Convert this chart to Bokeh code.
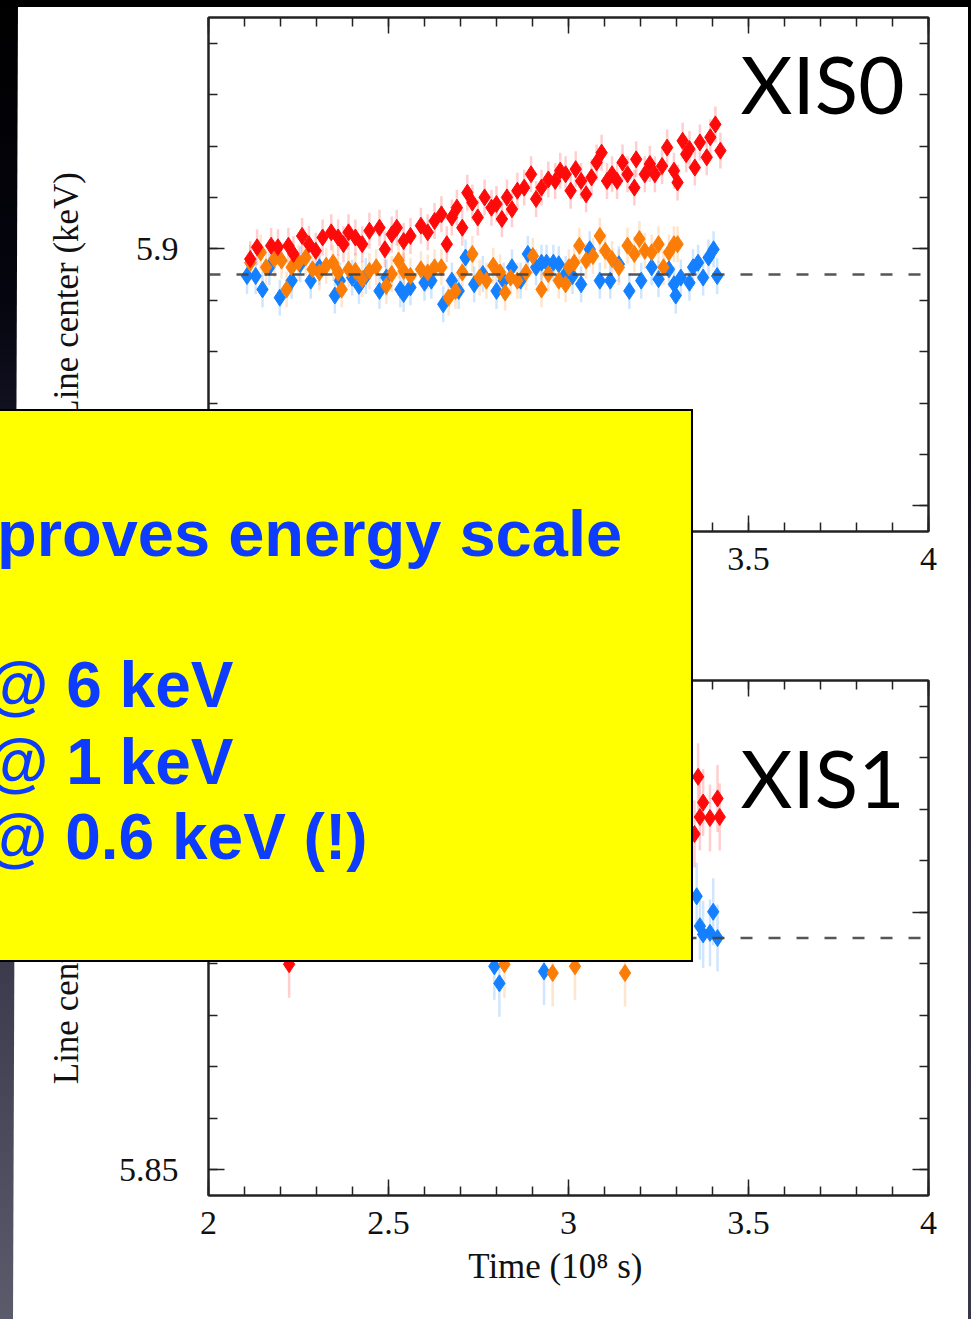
import numpy as np
from bokeh.plotting import figure
from bokeh.models import (Label, Span, LinearAxis, SingleIntervalTicker, Div,
                          CustomJSTickFormatter, ColumnDataSource, Range1d)
from bokeh.layouts import column
from bokeh.embed import file_html
from bokeh.resources import INLINE

# ---------------- data (time in 1e8 s, line centre in keV) ----------------
xis0_red_time = [2.116, 2.135, 2.174, 2.193, 2.222, 2.236, 2.260, 2.279, 2.298, 2.317,
                 2.341, 2.360, 2.375, 2.389, 2.408, 2.427, 2.447, 2.475, 2.490, 2.509,
                 2.523, 2.542, 2.561, 2.590, 2.609, 2.628, 2.647, 2.662, 2.676, 2.690,
                 2.705, 2.719, 2.733, 2.748, 2.767, 2.786, 2.800, 2.815, 2.829, 2.843,
                 2.858, 2.877, 2.896, 2.910, 2.925, 2.944, 2.963, 2.977, 2.992, 3.006,
                 3.020, 3.035, 3.049, 3.064, 3.078, 3.092, 3.107, 3.121, 3.135, 3.150,
                 3.164, 3.183, 3.188, 3.212, 3.226, 3.240, 3.260, 3.274, 3.293, 3.303,
                 3.317, 3.327, 3.336, 3.351, 3.365, 3.384, 3.394, 3.408, 3.422]
xis0_red_center = [5.8980, 5.9003, 5.9006, 5.9003, 5.9006, 5.8990, 5.9025, 5.9009, 5.8996, 5.9022,
                   5.9032, 5.9022, 5.9009, 5.9032, 5.9022, 5.9009, 5.9035, 5.9041, 5.8999, 5.9028,
                   5.9041, 5.9015, 5.9025, 5.9045, 5.9032, 5.9054, 5.9067, 5.9009, 5.9061, 5.9080,
                   5.9041, 5.9109, 5.9090, 5.9061, 5.9100, 5.9080, 5.9087, 5.9058, 5.9100, 5.9077,
                   5.9113, 5.9119, 5.9145, 5.9097, 5.9119, 5.9135, 5.9132, 5.9152, 5.9145, 5.9113,
                   5.9155, 5.9132, 5.9106, 5.9139, 5.9168, 5.9187, 5.9132, 5.9145, 5.9132, 5.9168,
                   5.9145, 5.9119, 5.9174, 5.9145, 5.9165, 5.9145, 5.9161, 5.9197, 5.9152, 5.9129,
                   5.9210, 5.9184, 5.9194, 5.9158, 5.9207, 5.9178, 5.9217, 5.9242, 5.9191]

xis0_orange_time = [2.116, 2.145, 2.160, 2.183, 2.203, 2.217, 2.231, 2.250, 2.270, 2.289,
                    2.308, 2.327, 2.346, 2.360, 2.370, 2.389, 2.408, 2.427, 2.447, 2.466,
                    2.494, 2.509, 2.528, 2.542, 2.561, 2.590, 2.609, 2.628, 2.647, 2.667,
                    2.686, 2.705, 2.733, 2.753, 2.772, 2.791, 2.810, 2.824, 2.839, 2.858,
                    2.882, 2.901, 2.925, 2.944, 2.973, 2.992, 3.001, 3.016, 3.030, 3.049,
                    3.068, 3.087, 3.102, 3.121, 3.140, 3.164, 3.183, 3.197, 3.212, 3.231,
                    3.250, 3.264, 3.279, 3.293, 3.303]
xis0_orange_center = [5.8973, 5.8993, 5.8964, 5.8980, 5.8977, 5.8921, 5.8964, 5.8973, 5.8983, 5.8960,
                      5.8954, 5.8967, 5.8973, 5.8954, 5.8921, 5.8960, 5.8957, 5.8941, 5.8957, 5.8964,
                      5.8928, 5.8951, 5.8977, 5.8957, 5.8947, 5.8960, 5.8954, 5.8964, 5.8964, 5.8905,
                      5.8918, 5.8954, 5.8990, 5.8944, 5.8938, 5.8967, 5.8954, 5.8915, 5.8944, 5.8938,
                      5.8954, 5.8986, 5.8921, 5.8951, 5.8938, 5.8931, 5.8964, 5.8973, 5.9006, 5.8977,
                      5.8986, 5.9025, 5.8996, 5.8980, 5.8964, 5.9006, 5.8990, 5.9019, 5.8996, 5.8993,
                      5.9009, 5.8964, 5.8993, 5.9009, 5.9009]

xis0_blue_time = [2.107, 2.131, 2.150, 2.169, 2.198, 2.231, 2.255, 2.284, 2.308, 2.351,
                  2.365, 2.399, 2.418, 2.437, 2.475, 2.494, 2.533, 2.542, 2.561, 2.600,
                  2.619, 2.652, 2.676, 2.695, 2.714, 2.738, 2.762, 2.800, 2.820, 2.843,
                  2.867, 2.887, 2.910, 2.925, 2.939, 2.958, 2.973, 2.992, 3.011, 3.035,
                  3.059, 3.087, 3.116, 3.140, 3.169, 3.202, 3.231, 3.250, 3.279, 3.293,
                  3.298, 3.312, 3.336, 3.346, 3.360, 3.374, 3.389, 3.403, 3.413]
xis0_blue_center = [5.8947, 5.8947, 5.8921, 5.8964, 5.8905, 5.8938, 5.8970, 5.8938, 5.8964, 5.8909,
                    5.8938, 5.8944, 5.8928, 5.8947, 5.8918, 5.8944, 5.8921, 5.8912, 5.8925, 5.8934,
                    5.8938, 5.8892, 5.8938, 5.8918, 5.8983, 5.8931, 5.8951, 5.8918, 5.8938, 5.8964,
                    5.8938, 5.8990, 5.8964, 5.8973, 5.8973, 5.8973, 5.8970, 5.8951, 5.8947, 5.8931,
                    5.8999, 5.8938, 5.8938, 5.8970, 5.8918, 5.8938, 5.8964, 5.8941, 5.8960, 5.8931,
                    5.8909, 5.8944, 5.8934, 5.8964, 5.8973, 5.8944, 5.8983, 5.8999, 5.8947]

# XIS1: only the points that are not covered by the overlay box
xis1_red_time = [2.224, 3.350, 3.360, 3.365, 3.374, 3.393, 3.414, 3.420]
xis1_red_center = [5.8899, 5.9152, 5.9263, 5.9185, 5.9213, 5.9183, 5.9221, 5.9185]
xis1_orange_time = [2.822, 2.956, 3.018, 3.157]
xis1_orange_center = [5.8899, 5.8882, 5.8895, 5.8882]
xis1_blue_time = [2.794, 2.808, 2.932, 3.356, 3.365, 3.374, 3.393, 3.402, 3.414]
xis1_blue_center = [5.8895, 5.8862, 5.8885, 5.9031, 5.8973, 5.8957, 5.8960, 5.9001, 5.8950]

xis0_error = 0.0035
xis1_error = 0.0065
ref_energy = 5.895          # dashed reference line (keV)
time_range = (2.0, 4.0)
energy_range = (5.845, 5.945)

x_label = "Time (10\u2078 s)"
y_label = "Line center (keV)"
panel_names = ["XIS0", "XIS1"]
box_lines = ["proves energy scale", "@ 6 keV", "@ 1 keV", "@ 0.6 keV (!)"]

# ---------------- layout constants (canvas pixels) ----------------
PAGE_W, PAGE_H = 971, 1319
SPLIT = 620
FRAME_L, FRAME_R = 208, 928
TOP_FRAME = (17, 531)
BOT_FRAME = (680, 1195)

RED, ORANGE, BLUE = "#ff0a0a", "#fb7d07", "#1580ff"
TEXT_BLUE = "#0d3cff"
SERIF = "Liberation Serif"
NB = "\u00a0"


def make_panel(height, offset, frame, show_xlabel):
    top, bottom = frame[0] - offset, frame[1] - offset
    p = figure(width=PAGE_W, height=height,
               x_range=Range1d(*time_range), y_range=Range1d(*energy_range),
               output_backend="svg", toolbar_location=None,
               min_border_left=FRAME_L, min_border_right=PAGE_W - FRAME_R,
               min_border_top=top, min_border_bottom=height - bottom)
    p.border_fill_color = "white"
    p.background_fill_color = "white"
    p.outline_line_color = "#222222"
    p.outline_line_width = 2
    p.grid.visible = False

    fmt = CustomJSTickFormatter(code="return String(Math.round(tick*100)/100);")
    blank = CustomJSTickFormatter(code="return '';")
    above = LinearAxis()
    right = LinearAxis()
    p.add_layout(above, "above")
    p.add_layout(right, "right")
    bx, ly = p.below[0], p.left[0]
    for ax in (bx, above):
        ax.ticker = SingleIntervalTicker(interval=0.5, num_minor_ticks=5)
    for ax in (ly, right):
        ax.ticker = SingleIntervalTicker(interval=0.05, num_minor_ticks=5)
    for ax in (bx, ly, above, right):
        ax.formatter = fmt
        ax.major_tick_in = 16
        ax.major_tick_out = 0
        ax.minor_tick_in = 9
        ax.minor_tick_out = 0
        ax.major_tick_line_color = "#222222"
        ax.minor_tick_line_color = "#222222"
        ax.major_tick_line_width = 1.5
        ax.minor_tick_line_width = 1.5
        ax.axis_line_color = "#222222"
        ax.axis_line_width = 2
        ax.major_label_text_font = SERIF
        ax.major_label_text_color = "#111111"
        ax.major_label_text_font_size = "34px"
    for ax in (above, right):
        ax.formatter = blank
        ax.major_label_text_font_size = "1px"
        ax.major_label_standoff = 0
    bx.major_label_standoff = 16
    ly.major_label_standoff = 30
    ly.axis_label = y_label + NB * 5
    ly.axis_label_text_font = SERIF
    ly.axis_label_text_font_style = "normal"
    ly.axis_label_text_font_size = "35px"
    ly.axis_label_text_color = "#111111"
    ly.axis_label_standoff = 30
    if show_xlabel:
        bx.axis_label = x_label + NB * 3
        bx.axis_label_text_font = SERIF
        bx.axis_label_text_font_style = "normal"
        bx.axis_label_text_font_size = "35px"
        bx.axis_label_text_color = "#111111"
        bx.axis_label_standoff = 10
    return p


def add_series(p, series, err):
    sources = []
    for t, e, color in series:
        t = np.asarray(t, dtype=float)
        e = np.asarray(e, dtype=float)
        src = ColumnDataSource(dict(t=t, e=e, lo=e - err, hi=e + err))
        p.segment(x0="t", y0="lo", x1="t", y1="hi", source=src,
                  line_color=color, line_alpha=0.2, line_width=2.5)
        sources.append((src, color))
    for src, color in sources:
        p.scatter(x="t", y="e", source=src, marker="diamond", size=17,
                  fill_color=color, line_color=color, line_width=1)
    p.add_layout(Span(location=ref_energy, dimension="width", line_color="#444444",
                      line_dash="12 16", line_width=2.5, line_alpha=0.9))


def panel_label(p, fb, gx, gy, text):
    # gy is the wanted baseline (page px); the label box sits ~33 px above it
    p.add_layout(Label(x=gx - FRAME_L, y=fb - gy + 33, x_units="screen", y_units="screen",
                       text=text, text_font="Lato", text_font_size="80px",
                       text_color="#000000", text_baseline="alphabetic", text_align="left"))


# ---------------- top panel (XIS0) ----------------
p1 = make_panel(SPLIT, 0, TOP_FRAME, False)
add_series(p1, [(xis0_blue_time, xis0_blue_center, BLUE),
                (xis0_orange_time, xis0_orange_center, ORANGE),
                (xis0_red_time, xis0_red_center, RED)], xis0_error)
panel_label(p1, TOP_FRAME[1], 740, 115, panel_names[0])

# ---------------- bottom panel (XIS1) ----------------
p2 = make_panel(PAGE_H - SPLIT - 1, SPLIT, BOT_FRAME, True)
add_series(p2, [(xis1_blue_time, xis1_blue_center, BLUE),
                (xis1_orange_time, xis1_orange_center, ORANGE),
                (xis1_red_time, xis1_red_center, RED)], xis1_error)
panel_label(p2, BOT_FRAME[1], 740, 809, panel_names[1])

# ---------------- slide backdrop + overlay call-out (fixed-position HTML) ----------------
text_rows = [(-3, 556, 65), (-14, 707, 64), (-14, 784, 64), (-15, 859, 64)]  # left, baseline, size
parts = [
    '<div style="position:fixed;left:0;top:0;width:18px;height:%dpx;z-index:90;'
    'background:linear-gradient(to bottom,#000000 0px,#05050f 300px,#151526 450px,'
    '#3c3b4d 962px,#5c5b6c %dpx);clip-path:polygon(0 0,18px 0,13px 100%%,0 100%%);"></div>'
    % (PAGE_H, PAGE_H),
    '<div style="position:fixed;left:968px;top:0;width:3px;height:%dpx;z-index:90;'
    'background:linear-gradient(to bottom,#000000 0px,#08080f 400px,#28283a 700px,'
    '#37374a %dpx);"></div>' % (PAGE_H, PAGE_H),
    '<div style="position:fixed;left:0;top:0;width:%dpx;height:7px;z-index:91;'
    'background:#000000;"></div>' % PAGE_W,
    '<div style="position:fixed;left:-5px;top:409px;width:698px;height:553px;z-index:100;'
    'box-sizing:border-box;border:2.5px solid #000000;background:#ffff00;"></div>',
]
for (lx, base, size), line in zip(text_rows, box_lines):
    parts.append(
        '<div style="position:fixed;left:%dpx;top:%dpx;z-index:101;white-space:nowrap;'
        'font-family:\'Liberation Sans\',Arial,sans-serif;font-weight:bold;font-size:%dpx;'
        'line-height:%dpx;color:%s;margin:0;padding:0;">%s</div>'
        % (lx, base - round(size * 0.847), size, size, TEXT_BLUE, line))
overlay = Div(text="".join(parts), width=1, height=1)

layout = column(p1, p2, overlay, spacing=0)
open("out.html", "w").write(file_html(layout, INLINE))
